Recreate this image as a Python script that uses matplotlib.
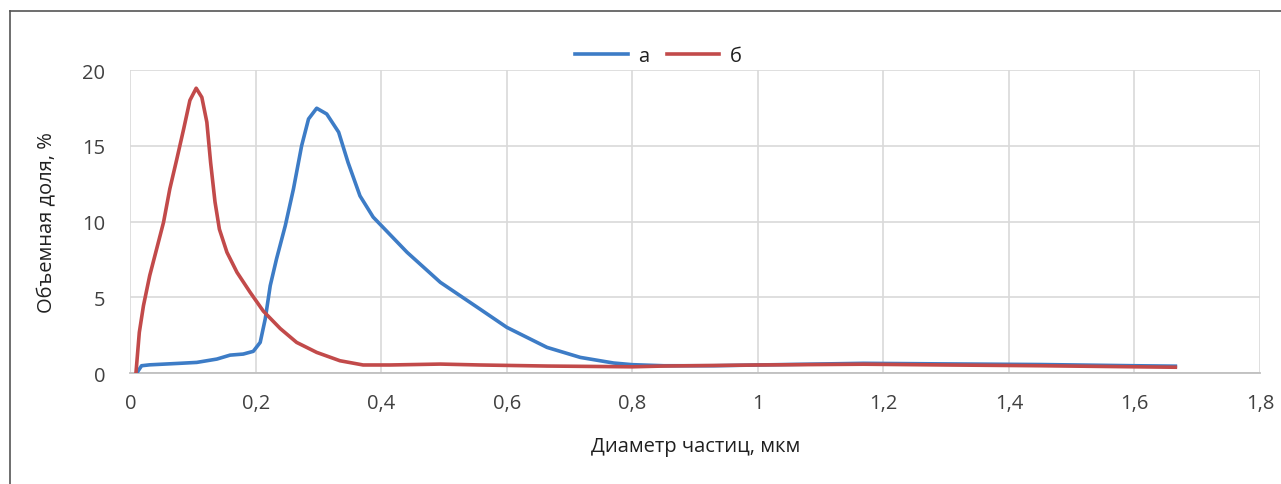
import matplotlib
matplotlib.use("Agg")
import matplotlib.pyplot as plt
from matplotlib.lines import Line2D

plt.rcParams['font.family'] = ['Open Sans', 'DejaVu Sans']

# --- DATA ---
x_a = [0.010, 0.018, 0.031, 0.079, 0.106, 0.138, 0.159, 0.180, 0.196, 0.207,
       0.215, 0.223, 0.233, 0.247, 0.260, 0.273, 0.284, 0.297, 0.313, 0.332,
       0.347, 0.366, 0.387, 0.401, 0.441, 0.494, 0.557, 0.600, 0.664, 0.717,
       0.770, 0.800, 0.850, 0.930, 1.000, 1.168, 1.300, 1.450, 1.600, 1.668]
y_a = [0.0, 0.5, 0.56, 0.66, 0.72, 0.94, 1.2, 1.27, 1.45, 2.04,
       3.58, 5.78, 7.54, 9.74, 12.16, 15.0, 16.77, 17.48, 17.1, 15.9,
       13.9, 11.7, 10.3, 9.7, 7.98, 6.0, 4.24, 3.03, 1.71, 1.05,
       0.68, 0.57, 0.5, 0.5, 0.55, 0.66, 0.62, 0.58, 0.5, 0.47]

x_b = [0.009, 0.0144, 0.021, 0.031, 0.042, 0.053, 0.063, 0.074, 0.085, 0.095,
       0.105, 0.114, 0.122, 0.128, 0.135, 0.142, 0.154, 0.170, 0.191, 0.212,
       0.239, 0.265, 0.297, 0.334, 0.371, 0.414, 0.494, 0.557, 0.664, 0.800,
       0.850, 1.000, 1.168, 1.300, 1.450, 1.600, 1.668]
y_b = [0.0, 2.7, 4.46, 6.45, 8.2, 9.96, 12.16, 14.1, 16.1, 18.0,
       18.8, 18.2, 16.56, 13.9, 11.3, 9.5, 7.98, 6.66, 5.34, 4.1,
       2.95, 2.04, 1.38, 0.83, 0.55, 0.55, 0.61, 0.55, 0.48, 0.43,
       0.48, 0.55, 0.6, 0.55, 0.5, 0.43, 0.4]

x_ticks = [0, 0.2, 0.4, 0.6, 0.8, 1.0, 1.2, 1.4, 1.6, 1.8]
x_labels = ['0', '0,2', '0,4', '0,6', '0,8', '1', '1,2', '1,4', '1,6', '1,8']
y_ticks = [0, 5, 10, 15, 20]

BLUE = '#3d7cc6'
RED = '#c24a4a'
GRID = '#d9d9d9'
TXT = '#404040'
FS = 14.5

fig = plt.figure(figsize=(12.81, 4.85), dpi=100, facecolor='white')
ax = fig.add_axes([0.1017, 0.2282, 0.8819, 0.6254])

ax.plot(x_a, y_a, color=BLUE, lw=2.6, solid_capstyle='butt', solid_joinstyle='round', zorder=3)
ax.plot(x_b, y_b, color=RED, lw=2.6, solid_capstyle='butt', solid_joinstyle='round', zorder=4)

ax.set_xlim(0, 1.8)
ax.set_ylim(0, 20)
ax.set_xticks(x_ticks)
ax.set_xticklabels(x_labels)
ax.set_yticks(y_ticks)
ax.grid(True, color=GRID, lw=1.2, zorder=0)
ax.set_axisbelow(True)
for s in ['top', 'right', 'left']:
    ax.spines[s].set_visible(False)
ax.spines['bottom'].set_color('#bfbfbf')
ax.spines['bottom'].set_linewidth(1.3)
ax.tick_params(axis='both', length=0, labelsize=FS, labelcolor=TXT)
ax.tick_params(axis='x', pad=14)
ax.tick_params(axis='y', pad=18)

ax.set_xlabel('Диаметр частиц, мкм', fontsize=FS, color='#202020', labelpad=17)
ax.set_ylabel('Объемная доля, %', fontsize=FS, color='#202020', labelpad=18)

handles = [Line2D([0], [0], color=BLUE, lw=2.6), Line2D([0], [0], color=RED, lw=2.6)]
fig.legend(handles, ['а', 'б'], loc='center', bbox_to_anchor=(0.514, 0.882), ncol=2,
           frameon=False, fontsize=FS, handlelength=2.6, handletextpad=0.5,
           columnspacing=0.9, labelcolor='#202020')

# outer frame (left and top edges visible in the original)
fig.add_artist(Line2D([10 / 1281, 10 / 1281], [0, 1 - 12 / 485], transform=fig.transFigure,
                      color='#555555', lw=1.2))
fig.add_artist(Line2D([10 / 1281, 1], [1 - 12 / 485, 1 - 12 / 485], transform=fig.transFigure,
                      color='#555555', lw=1.2))

fig.savefig('out.png', dpi=100)
